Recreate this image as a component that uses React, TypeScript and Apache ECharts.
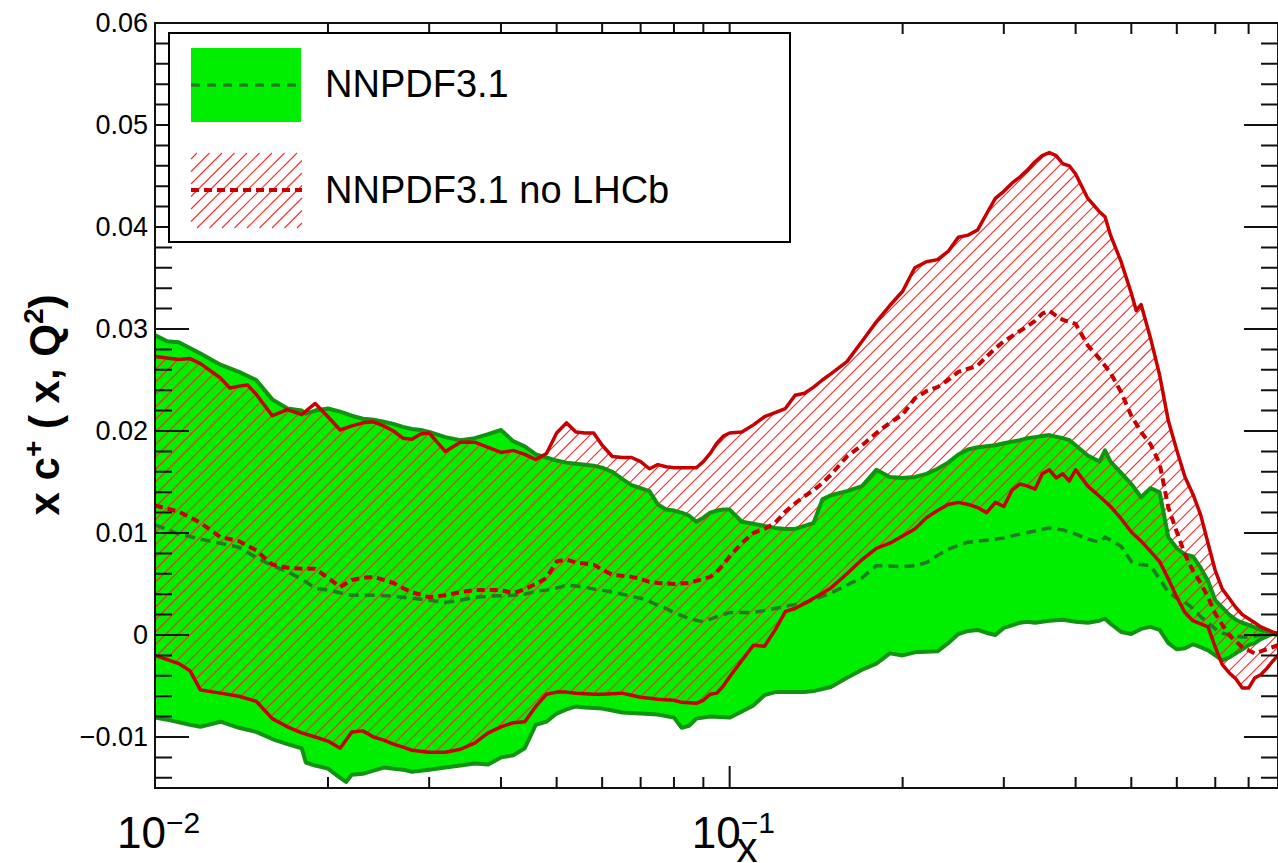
import { useEffect, useRef } from "react";
import * as echarts from "echarts";

const FONT = '"Liberation Sans", Arial, Helvetica, sans-serif';

// Axis ranges
const X_RANGE: [number, number] = [0.01, 0.9];
const Y_RANGE: [number, number] = [-0.015, 0.06];

// Tick positions and labels
const xMajorTicks = [0.01, 0.1];
const xMinorTicks = [0.02, 0.03, 0.04, 0.05, 0.06, 0.07, 0.08, 0.09, 0.2, 0.3, 0.4, 0.5, 0.6, 0.7, 0.8];
const xTickBase = ["10", "10"];
const xTickExponent = ["−2", "−1"];
const yMajorTicks = [-0.01, 0, 0.01, 0.02, 0.03, 0.04, 0.05, 0.06];
const yTickLabels = ["−0.01", "0", "0.01", "0.02", "0.03", "0.04", "0.05", "0.06"];
const yMinorTicks = [
  -0.014, -0.012, -0.008, -0.006, -0.004, -0.002, 0.002, 0.004, 0.006, 0.008, 0.012, 0.014, 0.016, 0.018,
  0.022, 0.024, 0.026, 0.028, 0.032, 0.034, 0.036, 0.038, 0.042, 0.044, 0.046, 0.048, 0.052, 0.054, 0.056, 0.058,
];

const legendLabels = ["NNPDF3.1", "NNPDF3.1 no LHCb"];

// NNPDF3.1: upper / lower edge of the uncertainty band and central value, [x, x c+(x,Q^2)]
const nnpdfUpper: [number, number][] = [
  [0.01, 0.0294], [0.0105, 0.0288], [0.011, 0.0287], [0.012, 0.0276], [0.013, 0.0265], [0.014, 0.0258],
  [0.015, 0.025], [0.016, 0.0231], [0.017, 0.0222], [0.018, 0.022], [0.0183, 0.0217], [0.019, 0.022],
  [0.02, 0.0222], [0.021, 0.0219], [0.022, 0.0215], [0.023, 0.0212], [0.024, 0.0211], [0.025, 0.0209],
  [0.026, 0.0207], [0.027, 0.0204], [0.028, 0.0202], [0.029, 0.0201], [0.03, 0.0199], [0.032, 0.0194],
  [0.034, 0.0191], [0.036, 0.0193], [0.038, 0.0197], [0.04, 0.0201], [0.042, 0.019], [0.044, 0.0185],
  [0.046, 0.0177], [0.048, 0.0174], [0.05, 0.0171], [0.052, 0.0169], [0.054, 0.0168], [0.056, 0.0167],
  [0.058, 0.0166], [0.06, 0.0164], [0.0625, 0.016], [0.065, 0.0153], [0.0675, 0.0147], [0.07, 0.0144],
  [0.0725, 0.0141], [0.075, 0.0128], [0.0775, 0.0123], [0.08, 0.0122], [0.0825, 0.012], [0.085, 0.0117],
  [0.0875, 0.0111], [0.09, 0.0115], [0.0925, 0.012], [0.095, 0.0122], [0.0975, 0.0123], [0.1, 0.0123],
  [0.105, 0.0111], [0.11, 0.0109], [0.115, 0.0107], [0.12, 0.0105], [0.125, 0.0104], [0.13, 0.0104],
  [0.135, 0.0107], [0.14, 0.011], [0.145, 0.0133], [0.15, 0.0137], [0.16, 0.0141], [0.17, 0.0146],
  [0.18, 0.0162], [0.19, 0.0155], [0.2, 0.0154], [0.21, 0.0155], [0.22, 0.0158], [0.23, 0.0163],
  [0.24, 0.0169], [0.25, 0.0177], [0.26, 0.0182], [0.27, 0.0184], [0.28, 0.0185], [0.29, 0.0186],
  [0.3, 0.0188], [0.32, 0.0191], [0.33, 0.0193], [0.34, 0.0194], [0.35, 0.0195], [0.36, 0.0196],
  [0.38, 0.0193], [0.39, 0.0191], [0.4, 0.0186], [0.42, 0.0176], [0.44, 0.017], [0.45, 0.0181],
  [0.46, 0.017], [0.48, 0.0159], [0.5, 0.0148], [0.52, 0.0135], [0.54, 0.0144], [0.56, 0.014],
  [0.58, 0.0096], [0.6, 0.0085], [0.62, 0.0079], [0.64, 0.0077], [0.66, 0.0066], [0.68, 0.0053],
  [0.7, 0.0034], [0.72, 0.0027], [0.74, 0.002], [0.76, 0.0015], [0.78, 0.0012], [0.8, 0.001],
  [0.84, 0.0005], [0.88, 0.0002], [0.9, 0.0002],
];
const nnpdfLower: [number, number][] = [
  [0.01, -0.0081], [0.0105, -0.0083], [0.0115, -0.0088], [0.012, -0.009], [0.013, -0.0085], [0.014, -0.0091],
  [0.015, -0.0095], [0.016, -0.0102], [0.017, -0.0107], [0.018, -0.0111], [0.0183, -0.0125], [0.019, -0.0128],
  [0.02, -0.0131], [0.021, -0.014], [0.0215, -0.0144], [0.022, -0.0137], [0.023, -0.0136], [0.024, -0.0133],
  [0.025, -0.013], [0.027, -0.0132], [0.028, -0.0134], [0.03, -0.0132], [0.032, -0.013], [0.034, -0.0128],
  [0.036, -0.0126], [0.038, -0.0127], [0.04, -0.012], [0.042, -0.0118], [0.044, -0.0111], [0.046, -0.0088],
  [0.048, -0.0085], [0.05, -0.0077], [0.052, -0.0073], [0.054, -0.007], [0.056, -0.0071], [0.06, -0.0072],
  [0.0625, -0.0074], [0.065, -0.0076], [0.07, -0.0077], [0.075, -0.0078], [0.08, -0.0081], [0.0825, -0.0091],
  [0.085, -0.0089], [0.0875, -0.0082], [0.0925, -0.008], [0.1, -0.0081], [0.105, -0.0075], [0.11, -0.0069],
  [0.115, -0.0059], [0.12, -0.0056], [0.135, -0.0056], [0.14, -0.0055], [0.15, -0.0051], [0.16, -0.0042],
  [0.17, -0.0034], [0.18, -0.0028], [0.19, -0.0018], [0.2, -0.002], [0.21, -0.0017], [0.23, -0.0016],
  [0.24, -0.0008], [0.25, 0.0001], [0.26, 0.0004], [0.27, 0.0005], [0.28, 0.0002], [0.29, 0.0],
  [0.3, 0.0007], [0.32, 0.0012], [0.33, 0.0013], [0.34, 0.0012], [0.35, 0.0013], [0.36, 0.0014],
  [0.38, 0.0015], [0.4, 0.0013], [0.42, 0.0012], [0.44, 0.0014], [0.45, 0.0016], [0.46, 0.0011],
  [0.48, 0.0003], [0.5, 0.0001], [0.52, 0.0006], [0.54, 0.0008], [0.56, 0.0005], [0.58, -0.0008],
  [0.6, -0.0014], [0.62, -0.0013], [0.64, -0.0009], [0.66, -0.0012], [0.68, -0.0015], [0.7, -0.002],
  [0.72, -0.0025], [0.74, -0.0022], [0.76, -0.0018], [0.78, -0.0014], [0.8, -0.001], [0.82, -0.0008],
  [0.84, -0.0004], [0.88, 0.0001], [0.9, 0.0],
];
const nnpdfCentral: [number, number][] = [
  [0.01, 0.0108], [0.011, 0.0099], [0.012, 0.0094], [0.013, 0.009], [0.014, 0.0086], [0.015, 0.0076],
  [0.016, 0.0068], [0.017, 0.0062], [0.018, 0.0055], [0.019, 0.0046], [0.02, 0.0044], [0.022, 0.0039],
  [0.024, 0.0039], [0.026, 0.0038], [0.028, 0.0036], [0.03, 0.0034], [0.032, 0.0032], [0.034, 0.0034],
  [0.036, 0.0037], [0.038, 0.0038], [0.042, 0.0039], [0.044, 0.004], [0.046, 0.0043], [0.048, 0.0044],
  [0.05, 0.0046], [0.052, 0.0049], [0.054, 0.0048], [0.056, 0.0047], [0.058, 0.0045], [0.06, 0.0044],
  [0.0625, 0.0042], [0.065, 0.004], [0.0675, 0.0038], [0.07, 0.0036], [0.0725, 0.0033], [0.075, 0.0029],
  [0.0775, 0.0026], [0.08, 0.0022], [0.0825, 0.0019], [0.085, 0.0016], [0.09, 0.0013], [0.095, 0.0018],
  [0.1, 0.0022], [0.11, 0.0022], [0.12, 0.0026], [0.13, 0.003], [0.135, 0.0031], [0.14, 0.0035],
  [0.15, 0.0041], [0.16, 0.0049], [0.17, 0.0056], [0.18, 0.0068], [0.2, 0.0067], [0.21, 0.0068],
  [0.22, 0.0071], [0.23, 0.0078], [0.24, 0.0084], [0.25, 0.0088], [0.26, 0.0091], [0.28, 0.0093],
  [0.3, 0.0095], [0.32, 0.0099], [0.34, 0.0102], [0.36, 0.0105], [0.38, 0.0103], [0.4, 0.0099],
  [0.42, 0.0094], [0.44, 0.0091], [0.45, 0.0096], [0.46, 0.0093], [0.48, 0.0087], [0.5, 0.0072],
  [0.52, 0.0069], [0.54, 0.0068], [0.56, 0.0055], [0.58, 0.0042], [0.6, 0.0036], [0.62, 0.0032],
  [0.64, 0.0026], [0.66, 0.0018], [0.68, 0.0012], [0.7, 0.0006], [0.72, 0.0002], [0.74, 0.0],
  [0.78, -0.0002], [0.8, -0.0002], [0.84, 0.0], [0.88, 0.0002], [0.9, 0.0002],
];

// NNPDF3.1 without LHCb data
const noLhcbUpper: [number, number][] = [
  [0.01, 0.0273], [0.011, 0.027], [0.0115, 0.0271], [0.012, 0.0266], [0.013, 0.0252], [0.0135, 0.0242],
  [0.014, 0.0244], [0.0145, 0.0245], [0.015, 0.0236], [0.016, 0.0215], [0.017, 0.0221], [0.018, 0.0216],
  [0.019, 0.0227], [0.02, 0.0214], [0.021, 0.0201], [0.022, 0.0205], [0.023, 0.0208], [0.024, 0.0209],
  [0.025, 0.0205], [0.026, 0.02], [0.027, 0.0193], [0.028, 0.0192], [0.029, 0.0197], [0.03, 0.0198],
  [0.032, 0.018], [0.034, 0.0189], [0.036, 0.0189], [0.038, 0.0184], [0.04, 0.0179], [0.042, 0.0181],
  [0.044, 0.0177], [0.046, 0.0172], [0.048, 0.0178], [0.05, 0.0198], [0.052, 0.0208], [0.054, 0.0199],
  [0.056, 0.0198], [0.058, 0.0198], [0.06, 0.0186], [0.0625, 0.0175], [0.065, 0.0174], [0.0675, 0.0174],
  [0.07, 0.017], [0.0725, 0.0163], [0.075, 0.0167], [0.0775, 0.0165], [0.08, 0.0164], [0.0875, 0.0164],
  [0.09, 0.017], [0.0925, 0.0178], [0.095, 0.0188], [0.0975, 0.0195], [0.1, 0.0198], [0.105, 0.0199],
  [0.11, 0.0206], [0.115, 0.0214], [0.12, 0.0218], [0.125, 0.0222], [0.13, 0.0235], [0.135, 0.0237],
  [0.14, 0.0243], [0.145, 0.025], [0.15, 0.0256], [0.16, 0.0268], [0.17, 0.0288], [0.18, 0.0307],
  [0.19, 0.0323], [0.2, 0.0337], [0.21, 0.036], [0.22, 0.0366], [0.23, 0.0368], [0.24, 0.0376],
  [0.25, 0.039], [0.26, 0.0392], [0.27, 0.0397], [0.28, 0.0413], [0.29, 0.0428], [0.3, 0.0435],
  [0.31, 0.0443], [0.32, 0.0449], [0.33, 0.0456], [0.34, 0.0464], [0.35, 0.047], [0.36, 0.0473],
  [0.37, 0.047], [0.38, 0.0462], [0.39, 0.046], [0.4, 0.0452], [0.42, 0.0428], [0.44, 0.0415],
  [0.45, 0.041], [0.46, 0.0392], [0.48, 0.0366], [0.5, 0.0335], [0.51, 0.0318], [0.52, 0.0324],
  [0.54, 0.0291], [0.56, 0.0255], [0.58, 0.021], [0.6, 0.0181], [0.62, 0.0155], [0.64, 0.0138],
  [0.66, 0.0118], [0.68, 0.009], [0.7, 0.0063], [0.72, 0.0045], [0.74, 0.0036], [0.76, 0.0027],
  [0.78, 0.002], [0.8, 0.0016], [0.82, 0.0012], [0.84, 0.0008], [0.88, 0.0003], [0.9, 0.0001],
];
const noLhcbLower: [number, number][] = [
  [0.01, -0.002], [0.011, -0.0028], [0.0115, -0.0035], [0.012, -0.0054], [0.013, -0.0057], [0.014, -0.006],
  [0.015, -0.0065], [0.016, -0.0082], [0.017, -0.009], [0.018, -0.0096], [0.019, -0.01], [0.02, -0.0104],
  [0.021, -0.0111], [0.022, -0.0095], [0.023, -0.0094], [0.024, -0.01], [0.025, -0.0103], [0.026, -0.0107],
  [0.027, -0.011], [0.028, -0.0113], [0.029, -0.0114], [0.03, -0.0115], [0.032, -0.0115], [0.034, -0.0112],
  [0.036, -0.0106], [0.038, -0.0096], [0.04, -0.009], [0.042, -0.0086], [0.044, -0.0085], [0.046, -0.007],
  [0.048, -0.0058], [0.05, -0.0056], [0.052, -0.0056], [0.054, -0.0057], [0.058, -0.0058], [0.06, -0.0058],
  [0.065, -0.0057], [0.0675, -0.0059], [0.07, -0.0061], [0.0725, -0.0062], [0.075, -0.0063], [0.08, -0.0064],
  [0.0825, -0.0066], [0.0875, -0.0067], [0.09, -0.0064], [0.0925, -0.0058], [0.095, -0.0057], [0.0975, -0.005],
  [0.1, -0.0041], [0.105, -0.0025], [0.11, -0.001], [0.115, -0.0011], [0.12, 0.0005], [0.125, 0.0023],
  [0.13, 0.0026], [0.135, 0.0031], [0.14, 0.0036], [0.145, 0.0041], [0.15, 0.0046], [0.16, 0.006],
  [0.17, 0.0074], [0.18, 0.0085], [0.19, 0.009], [0.2, 0.0097], [0.21, 0.0104], [0.22, 0.0115],
  [0.23, 0.0122], [0.24, 0.0128], [0.25, 0.013], [0.26, 0.0128], [0.27, 0.0125], [0.28, 0.012],
  [0.29, 0.013], [0.3, 0.0126], [0.31, 0.0142], [0.32, 0.0148], [0.33, 0.0146], [0.34, 0.0143],
  [0.35, 0.0158], [0.36, 0.0162], [0.37, 0.0154], [0.38, 0.0158], [0.39, 0.0151], [0.4, 0.0162],
  [0.42, 0.0146], [0.44, 0.0136], [0.46, 0.0126], [0.48, 0.0114], [0.5, 0.0101], [0.52, 0.0092],
  [0.54, 0.0082], [0.56, 0.0072], [0.58, 0.0055], [0.6, 0.0037], [0.62, 0.0022], [0.64, 0.0014],
  [0.66, 0.0011], [0.68, 0.0008], [0.7, -0.0012], [0.72, -0.0029], [0.74, -0.0037], [0.76, -0.0043],
  [0.78, -0.0052], [0.8, -0.0052], [0.82, -0.0042], [0.84, -0.0039], [0.86, -0.0033], [0.88, -0.0026],
  [0.9, -0.002],
];
const noLhcbCentral: [number, number][] = [
  [0.01, 0.0127], [0.011, 0.0121], [0.012, 0.011], [0.013, 0.0096], [0.014, 0.0092], [0.015, 0.0083],
  [0.016, 0.0069], [0.017, 0.0066], [0.018, 0.0065], [0.019, 0.0065], [0.02, 0.0056], [0.021, 0.0047],
  [0.022, 0.0054], [0.023, 0.0056], [0.024, 0.0057], [0.025, 0.0054], [0.026, 0.0051], [0.027, 0.0046],
  [0.028, 0.0042], [0.03, 0.0037], [0.032, 0.0039], [0.034, 0.0042], [0.036, 0.0044], [0.04, 0.0044],
  [0.042, 0.0041], [0.044, 0.0045], [0.046, 0.005], [0.048, 0.0056], [0.05, 0.0072], [0.052, 0.0074],
  [0.054, 0.0071], [0.056, 0.007], [0.058, 0.0069], [0.06, 0.0064], [0.0625, 0.0059], [0.065, 0.0058],
  [0.0675, 0.0057], [0.07, 0.0055], [0.0725, 0.0052], [0.075, 0.0051], [0.08, 0.005], [0.085, 0.0051],
  [0.0875, 0.0053], [0.09, 0.0055], [0.0925, 0.0057], [0.095, 0.0062], [0.0975, 0.0069], [0.1, 0.0077],
  [0.105, 0.009], [0.11, 0.01], [0.115, 0.0104], [0.12, 0.011], [0.125, 0.0121], [0.13, 0.0129],
  [0.135, 0.0136], [0.14, 0.0142], [0.145, 0.0149], [0.15, 0.0157], [0.16, 0.0175], [0.17, 0.0186],
  [0.18, 0.0198], [0.19, 0.0208], [0.2, 0.0216], [0.21, 0.0232], [0.22, 0.0239], [0.23, 0.0243],
  [0.24, 0.025], [0.25, 0.0258], [0.26, 0.0261], [0.27, 0.0264], [0.28, 0.0273], [0.29, 0.0281],
  [0.3, 0.0288], [0.31, 0.0293], [0.32, 0.0298], [0.33, 0.0303], [0.34, 0.0308], [0.35, 0.0315],
  [0.36, 0.0318], [0.37, 0.0313], [0.38, 0.0309], [0.39, 0.0307], [0.4, 0.0305], [0.42, 0.0284],
  [0.44, 0.0271], [0.46, 0.0257], [0.48, 0.0238], [0.5, 0.0215], [0.52, 0.0199], [0.54, 0.0187],
  [0.56, 0.0168], [0.58, 0.0125], [0.6, 0.0101], [0.62, 0.0079], [0.64, 0.0063], [0.66, 0.0051],
  [0.68, 0.0037], [0.7, 0.0021], [0.72, 0.001], [0.74, 0.0], [0.76, -0.0006], [0.78, -0.0012],
  [0.8, -0.0015], [0.82, -0.0018], [0.84, -0.0016], [0.88, -0.0012], [0.9, -0.001],
];

const GREEN_FILL = "#00ee00";
const GREEN_EDGE = "#119311";
const GREEN_MID = "#237a23";
const RED_EDGE = "#c80000";
const RED_HATCH = "#ff2a2a";
const HATCH_STEP = 12.5;

type Seg = [number, number, number, number];

// 45-degree hatch lines (x + y = const in screen space) clipped to a closed polygon
function hatchSegments(poly: number[][], step: number): Seg[] {
  let minC = Infinity;
  let maxC = -Infinity;
  for (const p of poly) {
    const c = p[0] + p[1];
    if (c < minC) minC = c;
    if (c > maxC) maxC = c;
  }
  const segs: Seg[] = [];
  for (let c = Math.ceil(minC / step) * step; c <= maxC; c += step) {
    const hits: number[][] = [];
    for (let i = 0; i < poly.length; i++) {
      const p = poly[i];
      const q = poly[(i + 1) % poly.length];
      const u = p[0] + p[1] - c;
      const v = q[0] + q[1] - c;
      if (u < 0 !== v < 0) {
        const t = u / (u - v);
        hits.push([p[0] + t * (q[0] - p[0]), p[1] + t * (q[1] - p[1])]);
      }
    }
    hits.sort((a, b) => a[0] - b[0]);
    for (let k = 0; k + 1 < hits.length; k += 2) {
      segs.push([hits[k][0], hits[k][1], hits[k + 1][0], hits[k + 1][1]]);
    }
  }
  return segs;
}

const segPath = (segs: Seg[]) =>
  segs.map((s) => `M${s[0].toFixed(2)} ${s[1].toFixed(2)}L${s[2].toFixed(2)} ${s[3].toFixed(2)}`).join("");

const bandPolygon = (upper: [number, number][], lower: [number, number][]) => [...upper, ...lower.slice().reverse()];

function lineSeries(data: [number, number][], color: string, width: number, dash: number[] | "solid", z: number) {
  return {
    type: "line",
    data,
    symbol: "none",
    showSymbol: false,
    silent: true,
    z,
    lineStyle: { color, width, type: dash, cap: "butt", join: "round" },
    emphasis: { disabled: true },
  };
}

function legendGraphics() {
  const box = { x: 169, y: 33, w: 621, h: 209 };
  const hatchRect = [
    [191, 153],
    [302, 153],
    [302, 228],
    [191, 228],
  ];
  const hatch = hatchSegments(hatchRect, HATCH_STEP).map((s) => ({
    type: "line",
    z: 101,
    silent: true,
    shape: { x1: s[0], y1: s[1], x2: s[2], y2: s[3] },
    style: { stroke: RED_HATCH, lineWidth: 1.1 },
  }));
  return [
    {
      type: "rect",
      z: 100,
      silent: true,
      shape: { x: box.x, y: box.y, width: box.w, height: box.h },
      style: { fill: "#fff", stroke: "#000", lineWidth: 2 },
    },
    {
      type: "rect",
      z: 101,
      silent: true,
      shape: { x: 191, y: 48, width: 110, height: 74 },
      style: { fill: GREEN_FILL },
    },
    {
      type: "line",
      z: 102,
      silent: true,
      shape: { x1: 191, y1: 85, x2: 301, y2: 85 },
      style: { stroke: GREEN_MID, lineWidth: 3.5, lineDash: [9, 7] },
    },
    ...hatch,
    {
      type: "line",
      z: 102,
      silent: true,
      shape: { x1: 191, y1: 190, x2: 302, y2: 190 },
      style: { stroke: RED_EDGE, lineWidth: 4, lineDash: [8, 5] },
    },
    {
      type: "text",
      z: 102,
      silent: true,
      x: 325,
      y: 84,
      style: { text: legendLabels[0], font: `38px ${FONT}`, fill: "#000", align: "left", verticalAlign: "middle" },
    },
    {
      type: "text",
      z: 102,
      silent: true,
      x: 325,
      y: 190,
      style: { text: legendLabels[1], font: `38px ${FONT}`, fill: "#000", align: "left", verticalAlign: "middle" },
    },
  ];
}

function buildOption() {
  const anchor = [[X_RANGE[0], 0]];
  return {
    animation: false,
    backgroundColor: "#fff",
    grid: { left: 155, top: 23, width: 1129, height: 765, show: false },
    xAxis: {
      type: "log",
      logBase: 10,
      min: X_RANGE[0],
      max: X_RANGE[1],
      axisLine: { show: false },
      axisTick: { show: false },
      axisLabel: { show: false },
      splitLine: { show: false },
    },
    yAxis: {
      type: "value",
      min: Y_RANGE[0],
      max: Y_RANGE[1],
      axisLine: { show: false },
      axisTick: { show: false },
      axisLabel: { show: false },
      splitLine: { show: false },
    },
    series: [
      // green uncertainty band
      {
        type: "custom",
        coordinateSystem: "cartesian2d",
        data: anchor,
        silent: true,
        clip: false,
        z: 1,
        renderItem: (_p: any, api: any) => ({
          type: "polygon",
          shape: { points: bandPolygon(nnpdfUpper, nnpdfLower).map((d) => api.coord(d)) },
          style: { fill: GREEN_FILL, stroke: "none" },
        }),
      },
      // red hatched band
      {
        type: "custom",
        coordinateSystem: "cartesian2d",
        data: anchor,
        silent: true,
        clip: false,
        z: 2,
        renderItem: (_p: any, api: any) => ({
          type: "path",
          shape: { pathData: segPath(hatchSegments(bandPolygon(noLhcbUpper, noLhcbLower).map((d) => api.coord(d)), HATCH_STEP)) },
          style: { fill: "none", stroke: RED_HATCH, lineWidth: 1.1 },
        }),
      },
      lineSeries(nnpdfUpper, GREEN_EDGE, 4, "solid", 3),
      lineSeries(nnpdfLower, GREEN_EDGE, 4, "solid", 3),
      lineSeries(nnpdfCentral, GREEN_MID, 3.5, [10, 6], 4),
      lineSeries(noLhcbUpper, RED_EDGE, 3.5, "solid", 5),
      lineSeries(noLhcbLower, RED_EDGE, 3.5, "solid", 5),
      lineSeries(noLhcbCentral, RED_EDGE, 4, [8, 5], 6),
      // frame and ticks on all four sides
      {
        type: "custom",
        coordinateSystem: "cartesian2d",
        data: anchor,
        silent: true,
        clip: false,
        z: 8,
        renderItem: (_p: any, api: any) => {
          const [x0, y0] = api.coord([X_RANGE[0], Y_RANGE[0]]);
          const [x1, y1] = api.coord([X_RANGE[1], Y_RANGE[1]]);
          let d = `M${x0} ${y1}L${x1} ${y1}L${x1} ${y0}L${x0} ${y0}Z`;
          const xt = (v: number, len: number) => {
            const px = api.coord([v, Y_RANGE[0]])[0];
            d += `M${px} ${y0}L${px} ${y0 - len}M${px} ${y1}L${px} ${y1 + len}`;
          };
          const yt = (v: number, len: number) => {
            const py = api.coord([X_RANGE[0], v])[1];
            d += `M${x0} ${py}L${x0 + len} ${py}M${x1} ${py}L${x1 - len} ${py}`;
          };
          xMajorTicks.forEach((v) => xt(v, 22));
          xMinorTicks.forEach((v) => xt(v, 11));
          yMajorTicks.forEach((v) => yt(v, 34));
          yMinorTicks.forEach((v) => yt(v, 17));
          return { type: "path", shape: { pathData: d }, style: { fill: "none", stroke: "#111", lineWidth: 2 } };
        },
      },
      // tick labels
      {
        type: "custom",
        coordinateSystem: "cartesian2d",
        data: anchor,
        silent: true,
        clip: false,
        z: 8,
        renderItem: (_p: any, api: any) => {
          const children: any[] = [];
          const x0 = api.coord([X_RANGE[0], 0])[0];
          const yBottom = api.coord([X_RANGE[0], Y_RANGE[0]])[1];
          yMajorTicks.forEach((v, i) => {
            const py = api.coord([X_RANGE[0], v])[1];
            children.push({
              type: "text",
              style: { text: yTickLabels[i], x: x0 - 7, y: py, font: `27px ${FONT}`, fill: "#000", align: "right", verticalAlign: "middle" },
            });
          });
          xMajorTicks.forEach((v, i) => {
            const px = api.coord([v, Y_RANGE[0]])[0];
            children.push({
              type: "text",
              style: { text: xTickBase[i], x: px + 11, y: yBottom + 44, font: `44px ${FONT}`, fill: "#000", align: "right", verticalAlign: "middle" },
            });
            children.push({
              type: "text",
              style: { text: xTickExponent[i], x: px + 11, y: yBottom + 34, font: `30px ${FONT}`, fill: "#000", align: "left", verticalAlign: "middle" },
            });
          });
          return { type: "group", children };
        },
      },
    ],
    graphic: [
      // y-axis title
      {
        type: "text",
        silent: true,
        x: 43,
        y: 405,
        rotation: Math.PI / 2,
        style: {
          text: "{m|x c}{s|+}{m| ( x, Q}{s|2}{m|)}",
          align: "center",
          verticalAlign: "middle",
          rich: {
            m: { fontFamily: FONT, fontSize: 42, fontWeight: "bold", lineHeight: 44, verticalAlign: "bottom", fill: "#000" },
            s: { fontFamily: FONT, fontSize: 28, fontWeight: "bold", lineHeight: 28, verticalAlign: "bottom", padding: [0, 0, 18, 0], fill: "#000" },
          },
        },
      },
      // x-axis title
      {
        type: "text",
        silent: true,
        x: 747,
        y: 847,
        style: { text: "x", font: `42px ${FONT}`, fill: "#000", align: "center", verticalAlign: "middle" },
      },
      ...legendGraphics(),
    ],
  };
}

export default function App() {
  const ref = useRef<HTMLDivElement>(null);
  useEffect(() => {
    const el = ref.current;
    if (!el) return;
    const chart = echarts.init(el, undefined, { renderer: "svg" });
    chart.setOption(buildOption() as any);
    return () => chart.dispose();
  }, []);
  return (
    <div
      ref={ref}
      style={{ position: "fixed", left: 0, top: 0, width: 1278, height: 863, background: "#fff", overflow: "hidden" }}
    />
  );
}
